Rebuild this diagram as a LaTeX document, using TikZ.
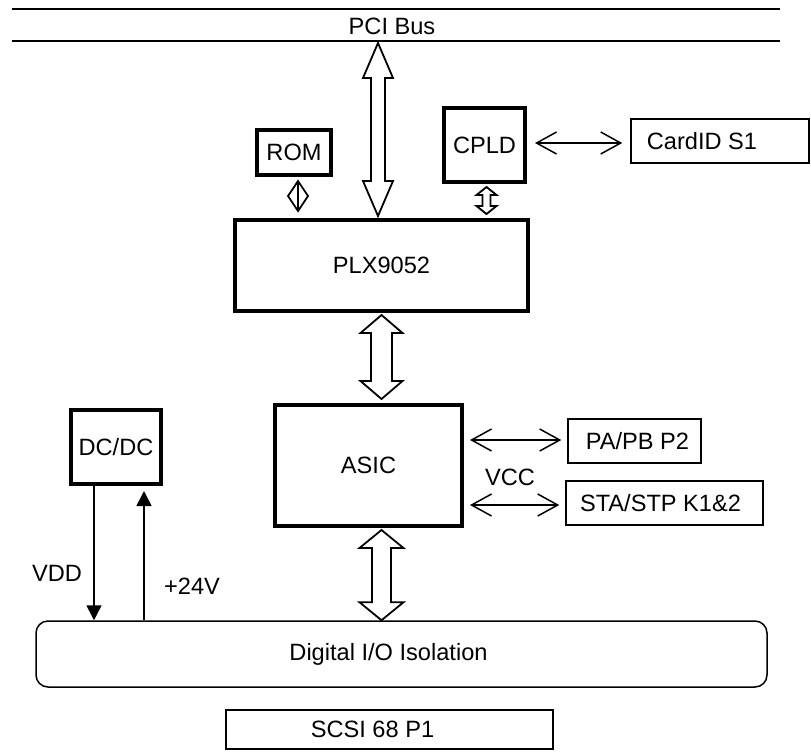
\documentclass[tikz,border=0pt]{standalone}
\usepackage{fontspec}
\setmainfont{Liberation Sans}
\usetikzlibrary{calc,arrows.meta}
\tikzset{
  thickbox/.style={draw, line width=4pt, inner sep=0pt, align=center},
  thinbox/.style={draw, line width=1.5pt, inner sep=0pt, align=center},
  harrow/.style={draw, line width=1.8pt, line join=miter, fill=white},
  biarrow/.style={line width=1.5pt, {Straight Barb[length=20pt,width=22pt,line width=1.5pt]}-{Straight Barb[length=20pt,width=22pt,line width=1.5pt]}},
  powarrow/.style={line width=1.5pt, -{Triangle[length=15pt,width=15pt]}},
  txt/.style={inner sep=0pt}
}
\newcommand\HArrow[5]{%
  \draw[harrow] (#1) -- ++(#3,#5) -- ++(-#3+#4,0) -- ($(#2)+(#4,-#5)$) -- ++(#3-#4,0) -- (#2)
    -- ++(-#3,-#5) -- ++(#3-#4,0) -- ($(#1)+(-#4,#5)$) -- ++(-#3+#4,0) -- cycle;}
\begin{document}
\begin{tikzpicture}[x=1pt,y=-1pt,font=\fontsize{23.6}{28}\selectfont]
\useasboundingbox (0,0) rectangle (811,753);
% PCI bus
\coordinate (busL1) at (12,9);
\coordinate (busR1) at (780,9);
\coordinate (busL2) at (12,41);
\coordinate (busR2) at (780,41);
\draw[line width=2.5pt] (busL1) -- (busR1);
\draw[line width=2.5pt] (busL2) -- (busR2);
\node[txt] (pci) at (392,26) {PCI Bus};
\coordinate (bus) at (378,43);

% boxes
\node[thickbox, minimum width=293pt, minimum height=91pt] (plx) at (381.5,265.5) {PLX9052};
\node[thickbox, minimum width=74pt, minimum height=45pt] (rom) at (294,152.5) {ROM};
\node[thickbox, minimum width=81pt, minimum height=74pt] (cpld) at (484.5,145) {CPLD};
\node[thinbox, minimum width=178pt, minimum height=44pt, label={[txt,xshift=-18pt]center:CardID S1}] (cardid) at (720,141) {};
\node[thickbox, minimum width=187pt, minimum height=121pt] (asic) at (368.5,465.5) {ASIC};
\node[thinbox, minimum width=133pt, minimum height=44pt, label={[txt,xshift=3pt]center:PA/PB P2}] (papb) at (634.5,441) {};
\node[thinbox, minimum width=197pt, minimum height=44pt, label={[txt,xshift=-4pt]center:STA/STP K1\&2}] (sta) at (664.5,503) {};
\node[thickbox, minimum width=90pt, minimum height=74pt] (dcdc) at (116,447) {DC/DC};
\node[thinbox, rounded corners=12pt, minimum width=731pt, minimum height=66pt, label={[txt,xshift=-13pt]center:Digital I/O Isolation}] (dio) at (401.5,654) {};
\node[thinbox, minimum width=327pt, minimum height=39pt, label={[txt,xshift=-17pt]center:SCSI 68 P1}] (scsi) at (389.5,729.5) {};

% labels
\node[txt] (vcc) at (510,477) {VCC};
\node[txt] (vdd) at (57,573) {VDD};
\node[txt] (p24) at (192,586) {+24V};

% hollow bus arrows
\coordinate (pciB) at ($(bus |- plx.north)+(0,-2)$);
\HArrow{bus}{pciB}{15}{7}{35}
\coordinate (pxT) at ($(plx.south)+(0,2)$);
\coordinate (pxB) at ($(plx.south |- asic.north)+(0,-4)$);
\HArrow{pxT}{pxB}{21}{10.5}{18}
\coordinate (adT) at ($(plx.south |- asic.south)+(0,2)$);
\coordinate (adB) at (plx.south |- dio.north);
\HArrow{adT}{adB}{22}{9.5}{18}
\coordinate (cpT) at ($(cpld.south)+(2,3)$);
\coordinate (cpB) at ($(cpT |- plx.north)+(0,-4)$);
\HArrow{cpT}{cpB}{10}{4}{8}

% ROM diamond
\coordinate (ra) at ($(rom.south)+(4,4)$);
\coordinate (rb) at ($(ra |- plx.north)+(0,-7)$);
\draw[line width=1.8pt, line join=miter] (ra) -- ($(ra)!0.5!(rb)+(10,0)$) -- (rb) -- ($(ra)!0.5!(rb)+(-10,0)$) -- cycle;
\draw[line width=1.5pt] (ra) -- (rb);

% thin double arrows
\coordinate (ccA) at ($(cpld.east)+(8,-2)$);
\coordinate (ccB) at ($(cardid.west |- ccA)+(-8,0)$);
\draw[biarrow] (ccA) -- (ccB);
\coordinate (apA) at ($(asic.east |- papb.west)+(6,-1)$);
\coordinate (apB) at ($(papb.west)+(-6,-1)$);
\draw[biarrow] (apA) -- (apB);
\coordinate (asA) at ($(asic.east |- sta.west)+(6,2)$);
\coordinate (asB) at ($(sta.west)+(-6,2)$);
\draw[biarrow] (asA) -- (asB);

% power lines
\coordinate (vddT) at ($(dcdc.south)+(-22,0)$);
\coordinate (vddB) at (vddT |- dio.north);
\draw[powarrow] (vddT) -- (vddB);
\coordinate (v24B) at ($(dcdc.south |- dio.north)+(28,0)$);
\coordinate (v24T) at ($(dcdc.south)+(28,5)$);
\draw[powarrow] (v24B) -- (v24T);
\end{tikzpicture}
\end{document}
